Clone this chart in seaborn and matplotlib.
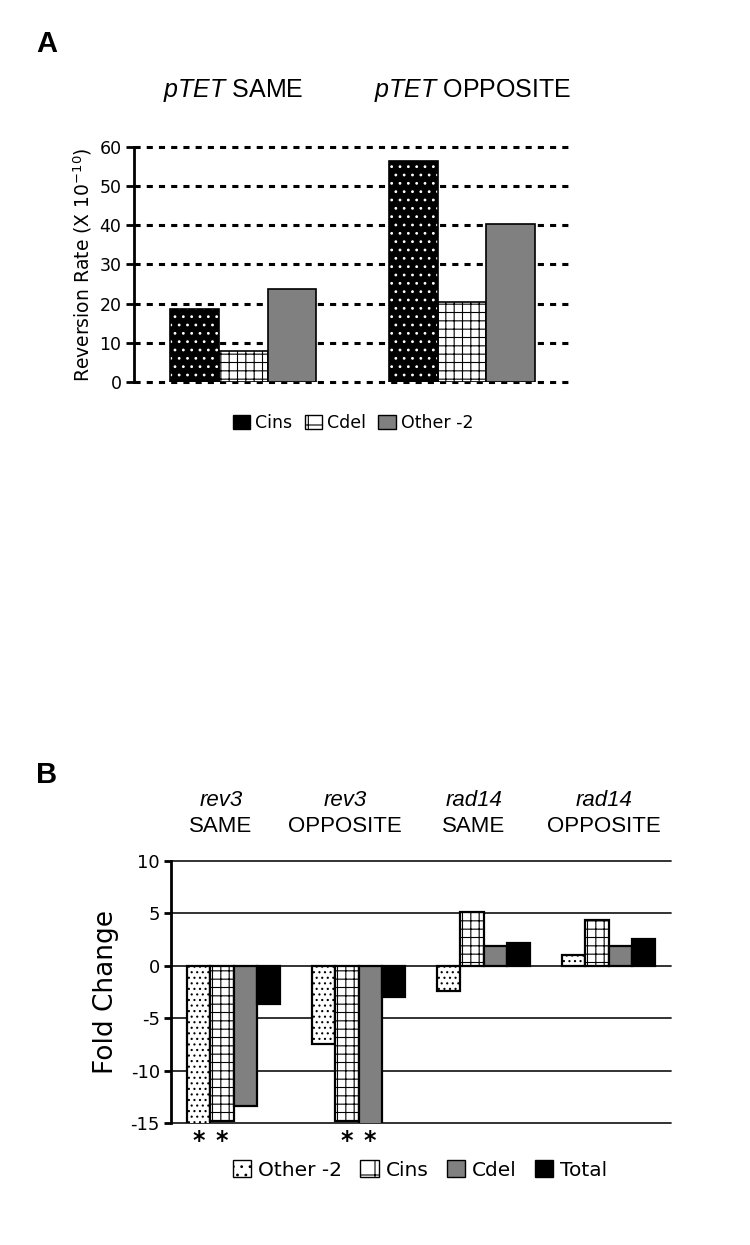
import matplotlib
matplotlib.use("Agg")
import matplotlib.pyplot as plt
import matplotlib.patches as mpatches
import numpy as np
import pandas as pd
import seaborn as sns

# PANEL A DATA (reversion rate x 10^-10)
groups_a = ['pTET SAME', 'pTET OPPOSITE']
series_a = ['Cins', 'Cdel', 'Other -2']
cins_a = [18.5, 56.3]
cdel_a = [7.8, 20.3]
other_a = [23.7, 40.3]

# PANEL B DATA (fold change), values below -15 run off the axis
groups_b = ['rev3 SAME', 'rev3 OPPOSITE', 'rad14 SAME', 'rad14 OPPOSITE']
series_b = ['Other -2', 'Cins', 'Cdel', 'Total']
other_b = [-16.0, -7.5, -2.4, 1.0]
cins_b = [-14.8, -14.8, 5.15, 4.4]
cdel_b = [-13.4, -16.0, 1.9, 1.9]
total_b = [-3.66, -3.0, 2.2, 2.55]
stars_b = [('rev3 SAME', 'Other -2'), ('rev3 SAME', 'Cins'),
           ('rev3 OPPOSITE', 'Cins'), ('rev3 OPPOSITE', 'Cdel')]

sns.set_theme(style='white')
plt.rcParams['font.family'] = ['DejaVu Sans']
plt.rcParams['text.color'] = 'black'
plt.rcParams['axes.labelcolor'] = 'black'
plt.rcParams['axes.unicode_minus'] = False
plt.rcParams['hatch.linewidth'] = 0.8
plt.rcParams['mathtext.fontset'] = 'custom'
plt.rcParams['mathtext.it'] = 'Liberation Sans:italic'
plt.rcParams['mathtext.rm'] = 'Liberation Sans'

fig = plt.figure(figsize=(7.5, 12.45), dpi=100)
axA = fig.add_axes([0.1787, 0.6932, 0.5827, 0.1888])
axB = fig.add_axes([0.228, 0.098, 0.6667, 0.2104])

# ---------- PANEL A ----------
vals_a = {'Cins': cins_a, 'Cdel': cdel_a, 'Other -2': other_a}
df_a = pd.DataFrame([(g, s, vals_a[s][i]) for s in series_a for i, g in enumerate(groups_a)],
                    columns=['group', 'series', 'value'])
fill_a = {'Cins': 'black', 'Cdel': 'white', 'Other -2': '#808080'}
hatch_a = {'Cins': '..', 'Cdel': '++', 'Other -2': ''}
sns.barplot(data=df_a, x='group', y='value', hue='series', order=groups_a, hue_order=series_a,
            palette=fill_a, saturation=1, width=0.667, edgecolor='black', linewidth=1.2,
            legend=False, ax=axA)
for s, cont in zip(series_a, axA.containers):
    for bar in cont:
        bar.set_hatch(hatch_a[s])
        if s == 'Cins':
            # white dots on black, then redraw a black outline
            bar.set_edgecolor('white')
            bar.set_linewidth(0)
            axA.add_patch(mpatches.Rectangle(bar.get_xy(), bar.get_width(), bar.get_height(),
                                             fill=False, ec='black', lw=1.2))

axA.set_ylim(0, 60)
axA.set_yticks(range(0, 61, 10))
axA.grid(axis='y', color='black', ls=(0, (2.0, 2.0)), lw=2.2)
for gl in axA.get_ygridlines():
    gl.set_clip_on(False)
axA.set_axisbelow(True)
for sp in ['top', 'right', 'bottom']:
    axA.spines[sp].set_visible(False)
axA.spines['left'].set_linewidth(2)
axA.spines['left'].set_color('black')
axA.tick_params(axis='y', left=True, length=6, width=2, labelsize=12.5, pad=3, colors='black')
axA.tick_params(axis='x', bottom=False, labelbottom=False)
axA.set_xlabel('')
axA.set_ylabel('Reversion Rate (X 10$^{\\mathregular{-10}}$)', fontsize=13.5, labelpad=4)

leg_a = [mpatches.Patch(facecolor=fill_a[s], edgecolor='black', hatch=('+' if s == 'Cdel' else ''),
                        label=s) for s in series_a]
fig.legend(handles=leg_a, loc='center', bbox_to_anchor=(353 / 750, 1 - 423 / 1245), ncol=3,
           frameon=False, fontsize=12.5, handlelength=1.0, handleheight=0.9,
           handletextpad=0.3, columnspacing=0.7, labelcolor='black')

fig.text(47 / 750, 1 - 44 / 1245, 'A', fontsize=21, fontweight='bold', family='Liberation Sans',
         ha='center', va='center')
fig.text(233 / 750, 1 - 91 / 1245, r'$\it{pTET}$ SAME', fontsize=18, family='Liberation Sans',
         ha='center', va='center')
fig.text(473 / 750, 1 - 91 / 1245, r'$\it{pTET}$ OPPOSITE', fontsize=18, family='Liberation Sans',
         ha='center', va='center')

# ---------- PANEL B ----------
vals_b = {'Other -2': other_b, 'Cins': cins_b, 'Cdel': cdel_b, 'Total': total_b}
df_b = pd.DataFrame([(g, s, vals_b[s][i]) for s in series_b for i, g in enumerate(groups_b)],
                    columns=['group', 'series', 'value'])
fill_b = {'Other -2': 'white', 'Cins': 'white', 'Cdel': '#808080', 'Total': 'black'}
hatch_b = {'Other -2': '...', 'Cins': '++', 'Cdel': '', 'Total': ''}
sns.barplot(data=df_b, x='group', y='value', hue='series', order=groups_b, hue_order=series_b,
            palette=fill_b, saturation=1, width=0.74, edgecolor='black', linewidth=1.6,
            legend=False, ax=axB)
for s, cont in zip(series_b, axB.containers):
    for bar in cont:
        bar.set_hatch(hatch_b[s])

axB.set_ylim(-15, 10)
axB.set_yticks(range(-15, 11, 5))
axB.grid(axis='y', color='#222222', ls='-', lw=1.3)
for gl in axB.get_ygridlines():
    gl.set_clip_on(False)
axB.set_axisbelow(True)
for sp in ['top', 'right', 'bottom']:
    axB.spines[sp].set_visible(False)
axB.spines['left'].set_linewidth(2)
axB.spines['left'].set_color('black')
axB.tick_params(axis='y', left=True, length=5, width=2, labelsize=13, pad=3, colors='black')
axB.tick_params(axis='x', bottom=False, labelbottom=False)
axB.set_xlabel('')
axB.set_ylabel('Fold Change', fontsize=19, labelpad=8)

# asterisks under the bars that run off the scale
for g, s in stars_b:
    bar = axB.containers[series_b.index(s)][groups_b.index(g)]
    axB.annotate('*', (bar.get_x() + bar.get_width() / 2, -15), xytext=(0, -4),
                 textcoords='offset points', ha='center', va='top', fontsize=17,
                 fontweight='bold', annotation_clip=False)

leg_b = [mpatches.Patch(facecolor=fill_b[s], edgecolor='black',
                        hatch={'Other -2': '..', 'Cins': '+'}.get(s, ''), label=s) for s in series_b]
fig.legend(handles=leg_b, loc='center', bbox_to_anchor=(420 / 750, 1 - 1170 / 1245), ncol=4,
           frameon=False, fontsize=14.5, handlelength=0.9, handleheight=0.85,
           handletextpad=0.35, columnspacing=0.9, labelcolor='black')

fig.text(47 / 750, 1 - 775 / 1245, 'B', fontsize=21, fontweight='bold', family='Liberation Sans',
         ha='center', va='center')
title_x = [221, 345, 474, 604]
for g, xp in zip(groups_b, title_x):
    gene, side = g.split(' ')
    fig.text(xp / 750, 1 - 800 / 1245, gene, fontsize=16, style='italic', family='Liberation Sans',
             ha='center', va='center')
    fig.text(xp / 750, 1 - 826 / 1245, side, fontsize=16, family='Liberation Sans',
             ha='center', va='center')

fig.savefig('out.png', dpi=100)
